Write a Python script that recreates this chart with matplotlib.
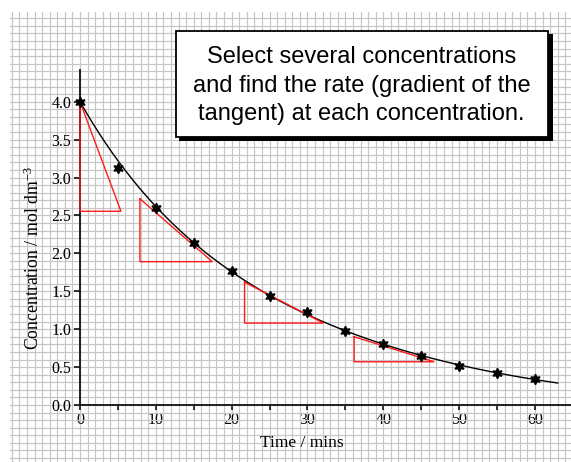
import numpy as np
import matplotlib
matplotlib.use("Agg")
import matplotlib.pyplot as plt
from matplotlib.ticker import MultipleLocator, FixedLocator, FixedFormatter
from matplotlib.patches import Rectangle

plt.rcParams['mathtext.fontset'] = 'custom'
plt.rcParams['mathtext.rm'] = 'Liberation Serif'
plt.rcParams['mathtext.it'] = 'Liberation Serif:italic'

# ---------------- data ----------------
time_min = [0, 5, 10, 15, 20, 25, 30, 35, 40, 45, 50, 55, 60]
conc = [4.00, 3.13, 2.60, 2.14, 1.77, 1.44, 1.22, 0.97, 0.81, 0.65, 0.52, 0.42, 0.34]

# tangent triangles: vertical-leg x, top y, bottom y, right-end x
tan_x0 = [0.0, 7.9, 21.7, 36.15]
tan_top = [4.00, 2.72, 1.62, 0.90]
tan_bot = [2.555, 1.89, 1.08, 0.57]
tan_x1 = [5.4, 17.45, 32.1, 46.7]

x_ticks = [0, 5, 10, 15, 20, 25, 30, 35, 40, 45, 50, 55, 60]
x_labels = ['0', '', '10', '', '20', '', '30', '', '40', '', '50', '', '60']
y_ticks = [0.0, 0.5, 1.0, 1.5, 2.0, 2.5, 3.0, 3.5, 4.0]
y_labels = ['0.0', '0.5', '1.0', '1.5', '2.0', '2.5', '3.0', '3.5', '4.0']

box_lines = ["Select several concentrations",
             "and find the rate (gradient of the",
             "tangent) at each concentration."]

# ---------------- figure ----------------
W, H = 571, 462
fig = plt.figure(figsize=(W / 100, H / 100), dpi=100)
fig.patch.set_facecolor('white')

ax_left_px, ax_top_px = 10, 12
ax = fig.add_axes([ax_left_px / W, 0, (W - ax_left_px) / W, (H - ax_top_px) / H])

# pixel mapping: x=0 at px 80, 7.583 px/min ; y=0 at px 405, 75.83 px/unit
x0_px, sx = 80.0, 7.583
y0_px, sy = 405.0, 75.83
ax.set_xlim((ax_left_px - x0_px) / sx, (W - x0_px) / sx)
ax.set_ylim((y0_px - H) / sy, (y0_px - ax_top_px) / sy)

# graph-paper grid
ax.xaxis.set_minor_locator(MultipleLocator(1))
ax.yaxis.set_minor_locator(MultipleLocator(0.1))
ax.xaxis.set_major_locator(FixedLocator(x_ticks))
ax.xaxis.set_major_formatter(FixedFormatter(x_labels))
ax.yaxis.set_major_locator(FixedLocator(y_ticks))
ax.yaxis.set_major_formatter(FixedFormatter(y_labels))
ax.grid(which='both', color='#c6c6c6', linewidth=0.85)
ax.set_axisbelow(True)
ax.tick_params(which='minor', length=0)

for s in ['top', 'right']:
    ax.spines[s].set_visible(False)
ax.spines['left'].set_position(('data', 0))
ax.spines['bottom'].set_position(('data', 0))
ax.spines['left'].set_bounds(0, 4.42)
ax.spines['bottom'].set_bounds(0, (W - x0_px) / sx)
for s in ['left', 'bottom']:
    ax.spines[s].set_linewidth(1.3)
    ax.spines[s].set_color('#111111')

ax.tick_params(axis='y', which='major', direction='out', length=4.3, width=1.1,
               pad=2.0, labelsize=11.5)
ax.tick_params(axis='x', which='major', direction='out', length=3.6, width=1.1,
               pad=1.5, labelsize=11.5)
for lab in ax.get_xticklabels() + ax.get_yticklabels():
    lab.set_fontfamily('Liberation Serif')

# fitted smooth curve (weighted log-cubic fit of the data, anchored at t=0)
weights = [20] + [1] * (len(time_min) - 1)
coef = np.polyfit(time_min, np.log(conc), 3, w=weights)
tt = np.linspace(0, 63.0, 300)
ax.plot(tt, np.exp(np.polyval(coef, tt)), color='black', lw=1.0, zorder=3)

# data points
ax.plot(time_min, conc, linestyle='none', marker=(6, 1, 0), markersize=7.5,
        color='black', zorder=4)

# tangent triangles
for x0, yt, yb, x1 in zip(tan_x0, tan_top, tan_bot, tan_x1):
    ax.plot([x0, x0, x1, x0], [yt, yb, yb, yt], color='#ff1a1a', lw=1.0,
            zorder=3.5, solid_joinstyle='miter')

# axis labels
fig.text(302 / W, 1 - 447 / H, 'Time / mins', ha='center', va='baseline',
         fontsize=12.5, family='Liberation Serif')
fig.text(33.5 / W, 1 - 258 / H, r'Concentration / mol dm$^{\mathrm{-3}}$',
         ha='center', va='center', rotation=90, fontsize=12.8,
         family='Liberation Serif')

# text box with shadow
def fig_rect(l, t, r, b, **kw):
    return Rectangle((l / W, 1 - b / H), (r - l) / W, (b - t) / H,
                     transform=fig.transFigure, **kw)

fig.patches.append(fig_rect(179, 34, 553, 141, facecolor='black',
                            edgecolor='none', zorder=10))
fig.patches.append(fig_rect(176, 31, 548, 137, facecolor='white',
                            edgecolor='black', linewidth=1.3, zorder=11))
baselines = [63.3, 91.7, 120.0]
for line, bl in zip(box_lines, baselines):
    fig.text(361.5 / W, 1 - bl / H, line, ha='center', va='baseline',
             fontsize=17, family='Liberation Sans', zorder=12)

fig.savefig('out.png', dpi=100)
